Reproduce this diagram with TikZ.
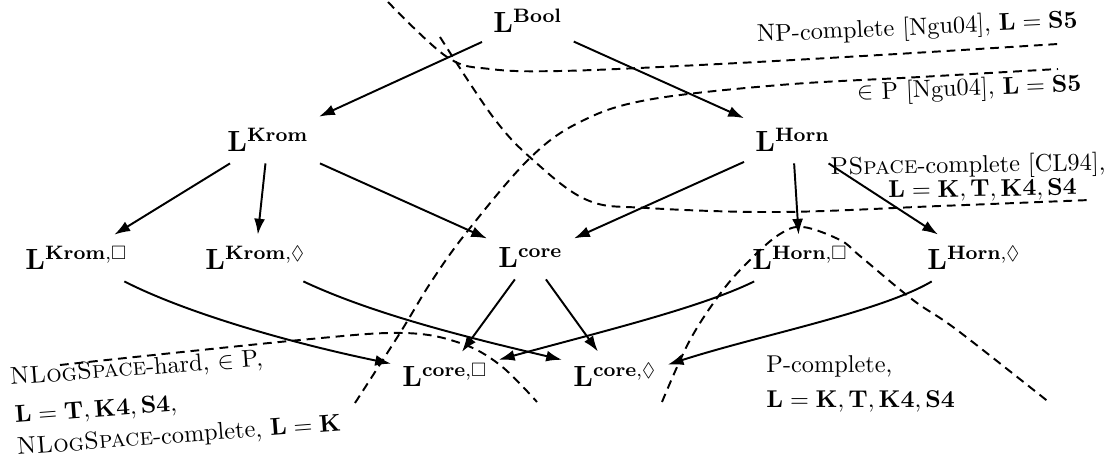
\documentclass[tikz,border=0pt]{standalone}
\usepackage{amsmath,amssymb}
\usetikzlibrary{arrows.meta}
\begin{document}
\begin{tikzpicture}[x=0.4115pt,y=-0.4115pt,
  nd/.style={inner sep=4.5pt,font=\large,anchor=base west},
  lbl/.style={inner sep=0pt,anchor=base west},
  arr/.style={thick,-{Latex[length=6.5pt,width=4.5pt]}},
  bd/.style={thick,dash pattern=on 3.6pt off 2.4pt}]
\useasboundingbox (0,0) rectangle (1112,466);
% nodes
\node[nd] (bool) at (482,33) {$\mathbf{L}^{\mathbf{Bool}}$};
\node[nd] (krom) at (216,152) {$\mathbf{L}^{\mathbf{Krom}}$};
\node[nd] (horn) at (744,152) {$\mathbf{L}^{\mathbf{Horn}}$};
\node[nd] (kb) at (14,270) {$\mathbf{L}^{\mathbf{Krom},\Box}$};
\node[nd] (kd) at (194,270) {$\mathbf{L}^{\mathbf{Krom},\Diamond}$};
\node[nd] (core) at (487,268) {$\mathbf{L}^{\mathbf{core}}$};
\node[nd] (hb) at (741,270) {$\mathbf{L}^{\mathbf{Horn},\Box}$};
\node[nd] (hd) at (916,270) {$\mathbf{L}^{\mathbf{Horn},\Diamond}$};
\node[nd] (cb) at (391,387) {$\mathbf{L}^{\mathbf{core},\Box}$};
\node[nd] (cd) at (562,387) {$\mathbf{L}^{\mathbf{core},\Diamond}$};
% arrows
\draw[arr] (bool) -- (krom);
\draw[arr] (bool) -- (horn);
\draw[arr] (krom) -- (kb);
\draw[arr] (krom) -- (kd);
\draw[arr] (krom) -- (core);
\draw[arr] (horn) -- (core);
\draw[arr] (horn) -- (hb);
\draw[arr] (horn) -- (hd);
\draw[arr] (core) -- (cb);
\draw[arr] (core) -- (cd);
\draw[arr] (kb.-26) .. controls (190,315) and (300,345) .. (cb.168);
\draw[arr] (kd.-26) .. controls (375,315) and (470,338) .. (cd.164);
\draw[arr] (hb.-153) .. controls (700,308) and (600,332) .. (cb.16);
\draw[arr] (hd.-151) .. controls (880,312) and (760,335) .. (cd.11);
% boundaries
\draw[bd] plot[smooth,tension=0.6] coordinates {(388,2) (447,57) (490,69) (560,71) (700,65) (880,55) (1058,44)};
\draw[bd] plot[smooth,tension=0.6] coordinates {(355,403) (400,333) (433,279) (470,228) (530,158) (580,122) (647,100) (780,85) (920,77) (1058,69)};
\draw[bd] plot[smooth,tension=0.6] coordinates {(440,37) (493,117) (533,160) (587,200) (647,208) (780,212) (940,206) (1090,200)};
\draw[bd] plot[smooth,tension=0.6] coordinates {(60,365) (300,340) (403,333) (460,343) (500,365) (537,402)};
\draw[bd] plot[smooth,tension=0.6] coordinates {(662,402) (690,340) (723,290) (753,257) (780,234) (803,227) (840,240) (860,256) (913,300) (957,330) (1050,403)};
% labels
\node[lbl,rotate=2.6] (np) at (757,42) {NP-complete [Ngu04], $\mathbf{L} = \mathbf{S5}$};
\node[lbl,rotate=2.3] (inp) at (857,100) {$\in$ P [Ngu04], $\mathbf{L} = \mathbf{S5}$};
\node[lbl,rotate=1] (ps1) at (830,175) {\textsc{PSpace}-complete [CL94],};
\node[lbl,rotate=1] (ps2) at (888,198) {$\mathbf{L} = \mathbf{K}, \mathbf{T}, \mathbf{K4}, \mathbf{S4}$};
\node[lbl,rotate=4.3] (nl1) at (10,385) {\textsc{NLogSpace}-hard, $\in$ P,};
\node[lbl,rotate=4.3] (nl2) at (15,423) {$\mathbf{L} = \mathbf{T}, \mathbf{K4}, \mathbf{S4}$,};
\node[lbl,rotate=4.3] (nl3) at (17,455) {\textsc{NLogSpace}-complete, $\mathbf{L} = \mathbf{K}$};
\node[lbl] (pc1) at (766,373) {P-complete,};
\node[lbl] (pc2) at (766,408) {$\mathbf{L} = \mathbf{K}, \mathbf{T}, \mathbf{K4}, \mathbf{S4}$};
\end{tikzpicture}
\end{document}
